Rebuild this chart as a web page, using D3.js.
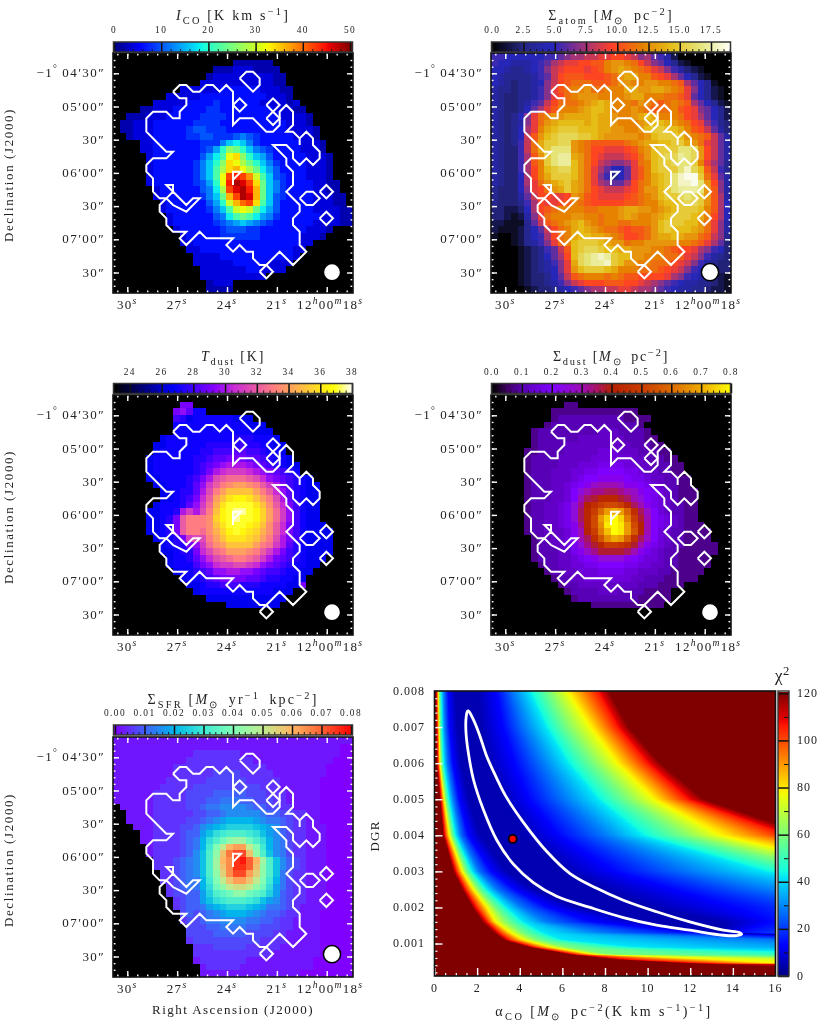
<!DOCTYPE html>
<html>
<head>
<meta charset="utf-8">
<script src="https://cdn.jsdelivr.net/npm/d3@7"></script>
<style>
  body { margin: 0; background: #fff; }
  #chi { position: absolute; }
  #fig { position: absolute; left: 0; top: 0; }
  text { font-family: "Liberation Serif", serif; fill: #222; }
</style>
</head>
<body>
<canvas id="chi"></canvas>
<svg id="fig" width="830" height="1030"></svg>
<script>
// maps: one string per row, one character per pixel (base 36 level, "." = no data)
const icoRows = [
  "...................................." ,
  "..................222222............",
  "...............2223332222...........",
  "..............233333333322..........",
  ".............3333333333322..........",
  "..........3 3333344444433322 .........",
  "........333 3344444444443332 .........",
  "......33333 4444544444433332 3........",
  "....2233344 4445544444444333 22.......",
  "..222333444 4455554444444433 332......",
  ".2233344444 4555544444444443 332......",
  ".2233344444 5665554444444443 3332.....",
  "..233344444 5566555676544444 3332.....",
  "....3344444 4455579a97544444 43332....",
  "....3344444 44568bedb9765444 43332....",
  ".....344444 4468achieb986444 443332...",
  ".....344444 4579beihfdb97544 443332...",
  ".....344444 4579cfijhfda8644 443332...",
  ".....344444 4579chmnmkgc9654 443332...",
  ".....344444 4568bhnpomid9754 4443322..",
  "......34444 4467afmopnjd9754 4443322..",
  "......34444 44579djmpojd9654 44433322.",
  ".......3444 44468bgjlmic9644 44433322.",
  ".......3444 444579cghgda8644 444333322",
  "........344 444467acdca87544 444433322",
  "........344 4444567898765444 444333322",
  ".........34 4444456665544444 443332...",
  "..........3 4444455555544444 43332....",
  "..........3 3444444444444444 433......",
  "........... 3344444444444444 33.......",
  "........... .333344444444444 3........",
  "........... .333333444443333 .........",
  "........... ..3333333443333. .........",
  "........... ..3333333333.... .........",
  "........... ...2333......... .........",
  "........... ...2222......... ........."
];
const atomRows = [
  "776666 667789 aabbcc ddcb9a 875200 000000",
  "766555 678abc cddeeg hhgfdb 986421 000000",
  "665445 679bcd ddcdeg hihgfe cb9753 210000",
  "654444 578bde eeddde fhiigg edca86 421000",
  "654344 569bde fffeee fhhggh hggfea 864100",
  "544344 579cef gghffg ggiihh iihgfc 964210",
  "543344 579cdf ghhhgg gghiig ggffec 864210",
  "543345 78bdff fghiji gggfhg fefgfe a86421",
  "543346 8acegg ghijji ggghgf effged c98642",
  "543469 cfghhi iiijii hgghij igggfd ca8642",
  "543459 cfhijj jjijii hggghi jjihgf dc9743",
  "54346a cgijkk kjjjii hhgghj kkjjig edb853",
  "54346b ehjkll lkkjih hhhhgh jkkkjh gfeb85",
  "54347b fikkll hgfeee eefghi ijjkki hfcb85",
  "54337b fikmmm hgfddc ccdegh jkkkmm lhdb85",
  "54337a ehkmnn ihfdcb bbcdfh jkllnm lhdb85",
  "54337a egkmnn jhfdba 99acfg jkklmm kgca84",
  "54337a dgjkll jhfca8 668ceg jkkkmo ljeb74",
  "54336a dgikkk jhfc97 468ceg ijkmop pkfc85",
  "54336a cfhijk ihfca9 88adfg ijkmoo pmhd95",
  "433369 cdfhik ihfdcb bbcdfh hjkmnn nmhe95",
  "433358 bddccd hgedcc ccdefg hjkklm lkhea5",
  "433347 adccde gfeddd ddeefg gijjkl lkhea6",
  "332236 adefgg ggffgg ghiihh ghijkk kjgea6",
  "332125 9cfggg hhggfg ghihgg hijkkk jigda6",
  "221114 8befgh ijhgfg gffggg hjkkkj jhfc95",
  "211124 68bdfg ijihgf fedeef hjkjjj ihfc95",
  "100124 67adfg ijjiih gfddef hiijih hfeb94",
  "000124 579cfg jkkkji hhfggh hhhhgg feca83",
  "000012 3478be jkllkj jiihhh ggfedd ca9763",
  "000012 3468ad jlmnon kjjhhg ggffec b97543",
  "000012 34579c ilmnno kjhhgg fffdcb 975433",
  "000012 34569c hjkkkj igggff fedcb9 765433",
  "000012 33468b efgggf gfeedd ddca97 654321",
  "000012 334579 bcddde eeddcb a98765 544321",
  "000001 233456 789aab bccbaa 987655 443221"
];
const tdustRows = [
  "...... ...... ...... ...... ...... ......",
  "...... ....cc ...... ...... ...... ......",
  "...... ...cdb 88.... ...... ...... ......",
  "...... ...a97 888888 777... ...... ......",
  "...... ...888 888888 88777. ...... ......",
  "...... ...888 888888 888777 ...... ......",
  "...... .78888 888888 999888 7..... ......",
  "...... 778888 889999 9a9988 77.... ......",
  "...... 788888 899aaa bbaa98 87.... ......",
  ".....7 888888 99abbc ccbba9 887... ......",
  ".....7 888888 9abcde eedcba 9877.. ......",
  ".....7 888888 9acefg ggfedc ba98.. ......",
  ".....7 788889 acehij jjihfd cba987 ......",
  "...... 778889 bdgikl mmlkig eca987 7.....",
  "...... .77899 behkmo ooomki fdb987 7.....",
  "...... .7789a cfimoq rrqomk heb987 7.....",
  "...... 78889b dgjnqs sssqol ifca87 7.....",
  ".....7 7889eg ehkors ttsrpm jgda87 7.....",
  ".....7 789cik kklprs tssrpm jgda87 7.....",
  ".....7 789cik kkloqs ssrqol ifca87 77....",
  ".....7 789cik kjlnpr srqpnl ifca87 777...",
  "...... 7889cg hhkmoq qqpomk heca87 777...",
  "...... .7899c dgjlmo ooomkj geb987 777...",
  "...... .77899 cfhjkm mmlkig eca987 777...",
  "...... ..7889 bdfhij kkjige cba987 77....",
  "...... ..7888 acdfgg hhgfdc ba9887 7.....",
  "...... ...788 9abdde eddcba a98877 ......",
  "...... ....78 89abcc ccbba9 98877. ......",
  "...... .....7 7899aa a99988 8877c. ......",
  "...... ...... 788888 888888 777... ......",
  "...... ...... ..7777 777777 77.... ......",
  "...... ...... .....7 777777 7..... ......",
  "...... ...... ...... ...... ...... ......",
  "...... ...... ...... ...... ...... ......",
  "...... ...... ...... ...... ...... ......",
  "...... ...... ...... ...... ...... ......"
];
const sdustRows = [
  "...... ...... ...... ...... ...... ......",
  "...... .....2 2..... ...... ...... ......",
  "...... ...222 222222 2222.. ...... ......",
  "...... ...233 333333 332222 ...... ......",
  "...... ..2333 333333 33332. ...... ......",
  "...... 233333 333344 433332 ...... ......",
  "...... 233333 344444 443332 2..... ......",
  "...... 233334 444444 444333 22.... ......",
  ".....2 233334 444455 544433 322... ......",
  ".....2 333344 444555 555443 3322.. ......",
  ".....2 333344 455566 665544 33322. ......",
  ".....2 333444 556677 776654 43322. ......",
  ".....2 333444 567788 887665 443322 ......",
  ".....2 333445 678abb ba8876 543322 ......",
  ".....2 333445 79bccd dcba87 654322 2.....",
  ".....2 333445 7bdegg gedb97 654322 2.....",
  ".....2 334456 9cfhjk kjgdb8 654332 2.....",
  ".....2 334456 9dgjnq rqmhda 754332 2.....",
  ".....2 334456 9dgkqt vtojeb 765432 2.....",
  ".....2 334456 8cgkpu vuqkfb 765432 22....",
  ".....2 334445 8bfjos vuqlfb 754332 222...",
  "...... 233445 7bdhlp rqmhda 754332 222...",
  "...... 233445 69cegj jiheb8 654332 2222..",
  "...... 233344 68acee eedb86 543322 2222..",
  "...... 233344 567899 998765 543322 222...",
  "...... .23344 556677 776655 443322 222...",
  "...... ..2334 455566 665544 433222 22....",
  "...... ...233 445555 555443 332222 2.....",
  "...... ....23 344444 444433 32222. ......",
  "...... .....2 333344 433332 222... ......",
  "...... ...... 233333 333322 222... ......",
  "...... ...... ...222 222222 22.... ......",
  "...... ...... ...... ...... ...... ......",
  "...... ...... ...... ...... ...... ......",
  "...... ...... ...... ...... ...... ......",
  "...... ...... ...... ...... ...... ......"
];
const sfrRows = [
  "111111 111111 111111 111111 111111 111111",
  "111111 111111 111111 111111 111111 111100",
  "111111 111111 222222 211111 111111 111100",
  "111111 111112 222222 222111 111111 111000",
  "111111 111222 222222 222221 111111 110000",
  "111111 111222 222333 322222 111111 110000",
  "111111 112222 223333 332222 211111 100000",
  "111111 122222 333333 333322 211111 100000",
  "111111 222223 333444 443332 221111 100000",
  "111111 222223 334455 544333 221111 100000",
  ".11111 222223 345566 665443 322111 100000",
  "..1111 222222 334456 666654 433221 100000",
  "..1111 222223 345678 888765 543221 100000",
  "...111 222233 46789a aaa987 643221 110000",
  "....11 222234 479bcd ddcb97 643221 110000",
  "....11 222234 58bdfh iifdb8 653221 110000",
  ".....1 222234 58cgko ppkgc8 653221 110000",
  ".....1 222234 69dhnr ttnhd9 653221 110000",
  "...... 222345 69dioq uvsoid 964321 110000",
  "...... 222345 69dinq uusnhd 964321 110000",
  "...... .22345 69dhmq ttpmhd 953221 110000",
  "...... .22345 58cgkn ppnkgc 853221 110000",
  "...... ..2345 58bfhk llkhfb 753221 110000",
  "...... ..2334 47adef hhfeda 743221 110000",
  "...... ...234 479bcd ddcb97 643221 110000",
  "...... ...234 45789a aa9875 543211 110000",
  "...... ....34 345678 887654 432211 100000",
  "...... ....23 345566 665544 322111 100000",
  "...... .....3 334455 554433 322111 100000",
  "...... .....3 333444 443333 221111 100000",
  "...... .....2 333333 333322 221111 100000",
  "...... ...... 222333 332222 211111 100000",
  "...... ...... 222222 222222 111111 100000",
  "...... ...... 122222 221111 111111 000000",
  "...... ...... .12222 211111 111111 000000",
  "...... ...... .11111 111111 111100 000000"
];

// CO contour, in map pixels (col, row), the same on all five maps
const contourMain = [[9,6],[10,5],[11,5],[12,6],[13,6],[14,5],[15,5],[16,6],[17,5],[18,6],[18,11],[19,10],[21,10],[23,12],[24,12],[25,11],[25,9],[26,8],[27,9],[27,11],[26,12],[27,12],[28,13],[28,14],[28,13],[29,12],[30,13],[30,14],[31,15],[31,16],[30,17],[29,16],[28,17],[27,16],[27,15],[26,14],[24,14],[26,16],[26,17],[27,18],[27,20],[26,21],[28,23],[28,24],[27,25],[27,26],[28,27],[28,29],[29,30],[27,32],[25,30],[23,32],[22,32],[21,31],[21,30],[20,30],[19,29],[18,30],[17,29],[18,28],[14,28],[13,27],[11,29],[10,28],[11,27],[9,27],[8,26],[8,25],[7,24],[7,23],[8,22],[9,21],[9,20],[8,20],[11,23],[12,22],[13,22],[11,24],[9,23],[8,22],[7,22],[6,21],[6,19],[5,18],[5,17],[6,16],[8,16],[9,15],[8,15],[5,12],[5,10],[6,9],[8,9],[9,10],[10,10],[10,9],[11,8],[11,7],[10,7],[9,6]];
const contourIslands = [
  [[19,4],[20,3],[21,3],[22,4],[22,5],[21,6],[19,4]],
  [[18,8],[19,7],[20,8],[19,9],[18,8]],
  [[23,8],[24,7],[25,8],[24,9],[23,8]],
  [[23,10],[24,9],[25,10],[24,11],[23,10]],
  [[18,20],[18,18],[19.2,18],[18,19.2]],
  [[28,22],[29,21],[30,21],[31,22],[30,23],[29,23],[28,22]],
  [[31,21],[32,20],[33,21],[32,22],[31,21]],
  [[31,25],[32,24],[33,25],[32,26],[31,25]],
  [[22,33],[23,32],[24,33],[23,34],[22,33]]
];

// chi2 surface: alpha_CO where each chi2 level is crossed, per DGR row
const chiLevels = [120,106,78,60,42,28,14,5,5,14,28,42,60,78,106,120];
const chiDgr = [0.008,0.007,0.006,0.005,0.004,0.003,0.0025,0.002,0.0016,0.0013,0.0011,0.0009,0.0007,0.00055,0.00045,0.00035,0.0002,0.0001];
const chiCross = [
  [0.03,0.08,0.16,0.20,0.30,0.42,0.61,0.97,1.98,2.92,3.63,4.41,5.34,6.20,7.61,8.16],
  [0.05,0.11,0.19,0.23,0.34,0.47,0.67,1.05,2.14,3.23,4.17,5.19,6.20,7.30,8.55,9.09],
  [0.08,0.14,0.23,0.30,0.42,0.58,0.83,1.23,2.45,3.78,5.03,6.20,7.45,8.55,9.95,10.58],
  [0.23,0.30,0.42,0.52,0.67,0.86,1.13,1.59,3.16,4.48,6.05,7.61,9.02,10.27,11.83,12.61],
  [0.39,0.47,0.67,0.80,0.98,1.20,1.55,2.14,4.17,5.89,7.92,9.64,11.67,13.39,16.5,17.6],
  [0.86,1.00,1.28,1.47,1.75,2.06,2.61,3.39,6.05,8.55,11.83,15.4,18.2,20.6,26,28.4],
  [1.28,1.44,1.80,2.06,2.45,2.92,3.70,4.64,7.92,11.36,15.4,19.8,24.5,27.6,33.9,37],
  [1.75,1.95,2.45,2.80,3.39,4.09,5.27,6.67,10.11,14.33,19.8,26,32.3,37,44.8,49.5],
  [2.22,2.45,2.84,3.39,4.17,5.27,7.30,10.42,13.55,15.89,21.4,29.2,37,44.8,52.6,57.3],
  [2.77,3.00,3.55,4.09,5.11,8.00,12.0,13.2,13.55,14.2,18.0,32.3,40,48,56,60],
  [3.23,3.47,4.17,4.80,6.05,15.89,21.4,22.9,24,25,26,33,41,49,57,61],
  [4.41,4.64,5.42,6.20,9.50,22,33.9,35.4,36,37,38,39,42,50,58,62],
  [6.28,6.59,7.45,8.20,22,37,41.7,43.2,44,45,46,47,48,51,59,63],
  [8.55,9.33,13.55,26,37,42,44,45,46,47,48,49,50,52,60,64],
  [11.67,12.77,16.2,37,38,43,45,46,47,48,49,50,51,53,61,65],
  [16.2,26,45,46,47,48,49,50,51,52,53,54,55,56,62,66],
  [100,101,102,103,104,105,106,107,108,109,110,111,112,113,114,115],
  [100,101,102,103,104,105,106,107,108,109,110,111,112,113,114,115]
];
const fitAlpha = [1.59,1.83,2.11,2.45,2.92,3.31,4.17,5.27,6.36,7.61,8.86,10.42,11.98,13.55,14.33,14.41,14.17,13.55,11.98,10.42,8.86,7.30,5.73,4.64,3.70,2.92,2.30,1.83,1.59,1.48,1.48,1.55];
const fitDgr = [0.00745,0.00720,0.00679,0.00619,0.00558,0.00512,0.00436,0.00355,0.00294,0.00253,0.00220,0.00188,0.00160,0.00137,0.00130,0.00126,0.00122,0.00123,0.00137,0.00151,0.00172,0.00200,0.00231,0.00269,0.00320,0.00387,0.00470,0.00554,0.00628,0.00683,0.00725,0.00744];
const bestFit = [3.67, 0.0039];

// axis labels
const raMajor = [30,27,24,21,18];
const decMajor = [270,300,330,360,390,420,450];
const decLabels = [
  [{t:"−1"},{t:"°",sup:1},{t:"\u200904′30″"}],
  [{t:"05′00″"}],[{t:"30″"}],[{t:"06′00″"}],[{t:"30″"}],[{t:"07′00″"}],[{t:"30″"}]
];
const raLabels = [
  [{t:"30"},{t:"s",sup:1,i:1}],
  [{t:"27"},{t:"s",sup:1,i:1}],
  [{t:"24"},{t:"s",sup:1,i:1}],
  [{t:"21"},{t:"s",sup:1,i:1}],
  [{t:"12"},{t:"h",sup:1,i:1},{t:"00"},{t:"m",sup:1,i:1},{t:"18"},{t:"s",sup:1,i:1}]
];
const msun = [{t:"M",i:1},{t:"⊙",sub:1}];

const jet = ["#000080","#0000ff","#00e6f7","#14ffde","#eeff08","#fff000","#ff1300","#e80000","#800000"];
const jetStops = [0,.11,.35,.375,.64,.66,.89,.91,1];
const ramps = {
  jet: d3.scaleLinear(jetStops, jet),
  cmr: d3.scaleLinear(d3.range(9).map(d => d/8), ["#000000","#262680","#2626bf","#993380","#ff4026","#e68000","#e6bf1a","#e6e680","#ffffff"]),
  gnu2: d3.scaleLinear([0,.25,.42,.5,.667,.8,.92,1], ["#000000","#0000ff","#8800ff","#c729d6","#ff7d82","#ffc23d","#ffff00","#ffffff"]),
  gnu: d3.scaleLinear([0,.0625,.125,.25,.375,.4375,.5,.625,.75,.875,1], ["#000000","#400062","#5900b5","#8004ff","#9c0db5","#a91461","#b52000","#ca3d00","#dd6b00","#efab00","#ffff00"]),
  rainbow: d3.scaleLinear(d3.range(9).map(d => d/8), ["#8000ff","#4062fa","#00b5eb","#40ead4","#80ffb5","#c0eb8e","#ffb562","#ff6232","#ff0000"])
};

const panels = [
  {rows: icoRows, step: 2, base: -2, ramp: ramps.jet, vmin: 0, vmax: 50, left: 113, top: 53, cbTop: 42, tickPx: [114,350], major: d3.range(0,51,10), fmt: "d",
   title: [{t:"I",i:1},{t:"CO",sub:1},{t:" [K km s"},{t:"−1",sup:1},{t:"]"}], titleY: 20, cbLabelY: 33, off: -1.3, titleGap: 2.2},
  {rows: atomRows, step: .75, ramp: ramps.cmr, vmin: 0, vmax: 19.1, left: 491, top: 53, cbTop: 42, tickPx: [492.3,731], major: d3.range(0,17.6,2.5), fmt: ".1f",
   title: [{t:"Σ"},{t:"atom",sub:1},{t:" ["},...msun,{t:"\u2002pc"},{t:"−2",sup:1},{t:"]"}], titleY: 20, cbLabelY: 33, off: -1.3, titleGap: 2.2},
  {rows: tdustRows, step: .5, base: 23, ramp: ramps.gnu2, vmin: 23, vmax: 38, left: 113, top: 395, cbTop: 383.5, tickPx: [114,352], major: d3.range(24,39,2), fmt: "d",
   title: [{t:"T",i:1},{t:"dust",sub:1},{t:" [K]"}], titleY: 361, cbLabelY: 375, off: -3.3, titleGap: 1.8},
  {rows: sdustRows, step: .025, base: .025, ramp: ramps.gnu, vmin: 0, vmax: .8, left: 491, top: 395, cbTop: 383.5, tickPx: [492,731], major: d3.range(0,.81,.1), fmt: ".1f",
   title: [{t:"Σ"},{t:"dust",sub:1},{t:" ["},...msun,{t:"\u2002pc"},{t:"−2",sup:1},{t:"]"}], titleY: 361, cbLabelY: 375, off: -3.3, titleGap: 1.8},
  {rows: sfrRows, step: .0025, ramp: ramps.rainbow, vmin: 0, vmax: .08, left: 113, top: 737, cbTop: 725, tickPx: [115,351], major: d3.range(0,.081,.01), fmt: ".2f",
   title: [{t:"Σ"},{t:"SFR",sub:1},{t:" ["},...msun,{t:"\u2002yr"},{t:"−1",sup:1},{t:"\u2002kpc"},{t:"−2",sup:1},{t:"]"}], titleY: 704, cbLabelY: 716, off: -3.3, titleGap: 2.2}
];

const svg = d3.select("#fig");
const SIZE = 240;

// the maps in the figure are resampled, so soften the pixel edges a little
svg.append("defs").append("filter").attr("id", "soft")
  .attr("x", "0").attr("y", "0").attr("width", "1").attr("height", "1")
  .append("feGaussianBlur").attr("stdDeviation", .6);

// text with sub/superscript and italic pieces as tspans
function rich(sel, segs, size) {
  let cur = 0;
  segs.forEach(s => {
    const target = s.sub ? size*.28 : s.sup ? -size*.38 : 0;
    sel.append("tspan")
      .attr("dy", target - cur)
      .style("font-size", (s.sub || s.sup ? size*.74 : size) + "px")
      .style("font-style", s.i ? "italic" : "normal")
      .text(s.t);
    cur = target;
  });
  return sel;
}

function label(x, y, segs, size, anchor, spacing) {
  const t = svg.append("text")
    .attr("x", x).attr("y", y)
    .attr("text-anchor", anchor || "middle")
    .style("letter-spacing", (spacing === undefined ? 1 : spacing) + "px");
  return rich(t, segs, size);
}

function parseRows(rows, step, base) {
  const cells = [];
  rows.forEach((row, r) => {
    row.replace(/ /g, "").split("").forEach((ch, c) => {
      if (ch !== "." && c < 36) cells.push({c: c, r: r, v: (base || 0) + parseInt(ch, 36)*step});
    });
  });
  return cells;
}

function whiteTicks(sel) {
  sel.select(".domain").remove();
  sel.selectAll("line").attr("stroke", "#fff").attr("stroke-width", 1.4);
  sel.selectAll("text").remove();
}

function drawMap(p) {
  const g = svg.append("g").attr("transform", `translate(${p.left},${p.top})`);
  const colX = d3.scaleBand(d3.range(36), [0, SIZE]);
  const rowY = d3.scaleBand(d3.range(36), [0, SIZE]);
  const color = d3.scaleLinear([p.vmin, p.vmax], [0, 1]).clamp(true);

  g.append("rect").attr("width", SIZE).attr("height", SIZE).attr("fill", "#000");
  const cellG = g.append("g").attr("filter", "url(#soft)");
  cellG.append("rect").attr("width", SIZE).attr("height", SIZE).attr("fill", "#000");
  cellG.selectAll("rect.cell").data(parseRows(p.rows, p.step, p.base)).join("rect")
    .attr("class", "cell")
    .attr("x", d => colX(d.c)).attr("y", d => rowY(d.r))
    .attr("width", colX.bandwidth()).attr("height", rowY.bandwidth())
    .attr("shape-rendering", "crispEdges")
    .attr("fill", d => p.ramp(color(d.v)));

  // contour
  const cx = d3.scaleLinear([0, 36], [0, SIZE]);
  const cy = d3.scaleLinear([0, 36], [p.off, SIZE + p.off]);
  const line = d3.line().x(d => cx(d[0])).y(d => cy(d[1]));
  [contourMain, ...contourIslands].forEach(path => {
    g.append("path").attr("d", line(path)).attr("fill", "none")
      .attr("stroke", "#fff").attr("stroke-width", 2).attr("stroke-linejoin", "miter");
  });

  // beam
  g.append("circle").attr("cx", 219).attr("cy", p.off + 220.5).attr("r", 8.6)
    .attr("fill", "#fff").attr("stroke", "#000").attr("stroke-width", 1.5);

  // axes, ticks inside on all sides
  const ra = d3.scaleLinear([30.86, 16.42], [0, SIZE]);
  const dec = d3.scaleLinear([270, 450], [20.3, 219.5]);
  const raMinor = d3.range(16.8, 31, .6);
  const decMinor = d3.range(240, 480, 6).filter(d => dec(d) > 2 && dec(d) < SIZE - 2);
  [[d3.axisBottom, SIZE, -1], [d3.axisTop, 0, 1]].forEach(([axis, y, s]) => {
    g.append("g").attr("transform", `translate(0,${y})`)
      .call(axis(ra).tickValues(raMajor).tickSize(5)).call(whiteTicks).selectAll("line").attr("y2", 6*s);
    g.append("g").attr("transform", `translate(0,${y})`)
      .call(axis(ra).tickValues(raMinor).tickSize(2)).call(whiteTicks).selectAll("line").attr("y2", 2.5*s);
  });
  [[d3.axisLeft, 0, 1], [d3.axisRight, SIZE, -1]].forEach(([axis, x, s]) => {
    g.append("g").attr("transform", `translate(${x},0)`)
      .call(axis(dec).tickValues(decMajor).tickSize(5)).call(whiteTicks).selectAll("line").attr("x2", 6*s);
    g.append("g").attr("transform", `translate(${x},0)`)
      .call(axis(dec).tickValues(decMinor).tickSize(2)).call(whiteTicks).selectAll("line").attr("x2", 2.5*s);
  });
  g.append("rect").attr("width", SIZE).attr("height", SIZE)
    .attr("fill", "none").attr("stroke", "#111").attr("stroke-width", 1.6);

  // tick labels
  raMajor.forEach((d, i) => label(p.left + ra(d) + (i === 4 ? 3.5 : 0), p.top + SIZE + 16, raLabels[i], 13, "middle", 1.3));
  decMajor.forEach((d, i) => label(p.left - 8, p.top + dec(d) + 4, decLabels[i], 13, "end", 1.4));

  drawColorbar(p);
}

function drawColorbar(p) {
  const h = 10;
  const g = svg.append("g").attr("transform", `translate(${p.left},${p.cbTop})`);
  const x = d3.scaleLinear([p.vmin, p.vmax], [p.tickPx[0] - p.left, p.tickPx[1] - p.left]);
  const t = d3.scaleLinear([p.vmin, p.vmax], [0, 1]).clamp(true);
  g.selectAll("rect.slice").data(d3.range(1, SIZE - 1)).join("rect")
    .attr("class", "slice")
    .attr("x", d => d).attr("y", 0).attr("width", 1.2).attr("height", h)
    .attr("fill", d => p.ramp(t(x.invert(d))));

  const step = p.major[1] - p.major[0];
  const [d0, d1] = [x.invert(1), x.invert(SIZE - 1)];
  const minors = d3.range(p.major[0] - step, d1, step/5).filter(d => d >= d0);
  g.append("g").attr("transform", `translate(0,${h})`)
    .call(d3.axisTop(x).tickValues(minors).tickSize(3).tickFormat(""))
    .call(a => a.select(".domain").remove())
    .selectAll("line").attr("stroke", "#111").attr("stroke-width", .9);
  g.append("g").attr("transform", `translate(0,${h})`)
    .call(d3.axisTop(x).tickValues(p.major).tickSize(h).tickFormat(""))
    .call(a => a.select(".domain").remove())
    .selectAll("line").attr("stroke", "#111").attr("stroke-width", 1.5);
  g.append("rect").attr("x", .5).attr("y", 0).attr("width", SIZE - 1).attr("height", h)
    .attr("fill", "none").attr("stroke", "#333").attr("stroke-width", 1.5);

  const fmt = d3.format(p.fmt);
  p.major.forEach(d => label(p.left + x(d), p.cbLabelY, [{t: fmt(d)}], 9.4, "middle", 1.4));
  label(p.left + 120, p.titleY, p.title, 14, "middle", p.titleGap);
}

panels.forEach(drawMap);

// left axis titles
[175, 517, 860].forEach(cy => {
  const t = svg.append("text").attr("transform", `translate(13,${cy}) rotate(-90)`)
    .attr("text-anchor", "middle").style("letter-spacing", "1.6px");
  rich(t, [{t: "Declination (J2000)"}], 13);
});
label(233, 1014, [{t: "Right Ascension (J2000)"}], 13, "middle", 1.45);

// chi2 panel
const chiBox = {x0: 434.5, x1: 775.5, y0: 691, y1: 976};
const xA = d3.scaleLinear([0, 16], [chiBox.x0, chiBox.x1]);
const yD = d3.scaleLinear([0.0001, 0.008], [chiBox.y1, chiBox.y0]);
const chiColor = d3.scaleLinear([0, 120], [0, 1]).clamp(true);

function drawChiRaster() {
  const w = Math.round(chiBox.x1 - chiBox.x0), h = Math.round(chiBox.y1 - chiBox.y0);
  const canvas = d3.select("#chi")
    .attr("width", w).attr("height", h)
    .style("left", chiBox.x0 + "px").style("top", chiBox.y0 + "px").node();
  const ctx = canvas.getContext("2d");
  const img = ctx.createImageData(w, h);
  const lut = d3.range(256).map(i => d3.rgb(ramps.jet(i/255)));
  // one scale per level curve: DGR -> alpha
  const curves = chiLevels.map((_, k) => d3.scaleLinear(chiDgr, chiCross.map(row => row[k])));
  for (let py = 0; py < h; py++) {
    const dgr = yD.invert(chiBox.y0 + py + .5);
    const rowScale = d3.scaleLinear(curves.map(c => c(dgr)), chiLevels).clamp(true);
    for (let px = 0; px < w; px++) {
      const chi = rowScale(xA.invert(chiBox.x0 + px + .5));
      const c = lut[Math.round(chiColor(chi)*255)];
      const o = (py*w + px)*4;
      img.data[o] = c.r; img.data[o+1] = c.g; img.data[o+2] = c.b; img.data[o+3] = 255;
    }
  }
  ctx.putImageData(img, 0, 0);
}
drawChiRaster();

const fitLine = d3.line().x(d => xA(d[0])).y(d => yD(d[1])).curve(d3.curveCatmullRomClosed);
svg.append("path").attr("d", fitLine(fitAlpha.map((a, i) => [a, fitDgr[i]])))
  .attr("fill", "none").attr("stroke", "#fff").attr("stroke-width", 2.8);
svg.append("circle").attr("cx", xA(bestFit[0])).attr("cy", yD(bestFit[1])).attr("r", 4)
  .attr("fill", "#f00").attr("stroke", "#000").attr("stroke-width", 1.8);

function chiTicks(sel, w) {
  sel.select(".domain").remove();
  sel.selectAll("line").attr("stroke", "#fff").attr("stroke-width", w);
}
svg.append("g").attr("transform", `translate(0,${chiBox.y1})`)
  .call(d3.axisTop(xA).tickValues(d3.range(0, 16.1, .5)).tickSize(3).tickFormat(""))
  .call(chiTicks, 1.2);
svg.append("g").attr("transform", `translate(0,${chiBox.y1})`)
  .call(d3.axisTop(xA).tickValues(d3.range(0, 17, 2)).tickSize(8).tickFormat(""))
  .call(chiTicks, 1.4);
svg.append("g").attr("transform", `translate(${chiBox.x0},0)`)
  .call(d3.axisRight(yD).tickValues(d3.range(.0002, .008, .0002)).tickSize(3).tickFormat(""))
  .call(chiTicks, 1.2);
svg.append("g").attr("transform", `translate(${chiBox.x0},0)`)
  .call(d3.axisRight(yD).tickValues(d3.range(1, 8).map(d => d/1000)).tickSize(8).tickFormat(""))
  .call(chiTicks, 1.4);
svg.append("rect").attr("x", chiBox.x0).attr("y", chiBox.y0)
  .attr("width", chiBox.x1 - chiBox.x0).attr("height", chiBox.y1 - chiBox.y0)
  .attr("fill", "none").attr("stroke", "#111").attr("stroke-width", 1.6);

d3.range(0, 17, 2).forEach(d => label(xA(d), 992, [{t: String(d)}], 12, "middle", .9));
d3.range(1, 9).forEach(d => label(425, yD(d/1000) + 3.5, [{t: d3.format(".3f")(d/1000)}], 12, "end", 1));
const dgrT = svg.append("text").attr("transform", "translate(379,836) rotate(-90)")
  .attr("text-anchor", "middle").style("letter-spacing", "1.2px");
rich(dgrT, [{t: "DGR"}], 13);
label(604, 1016, [{t:"α"},{t:"CO",sub:1},{t:" ["},...msun,{t:"\u2002pc"},{t:"−2",sup:1},{t:"(K km s"},{t:"−1",sup:1},{t:")"},{t:"−1",sup:1},{t:"]"}], 14, "middle", 2.4);

// chi2 colorbar
const cb = {x: 778, w: 11};
const yC = d3.scaleLinear([0, 120], [976, 693.3]);
svg.selectAll("rect.cbslice").data(d3.range(692, 976)).join("rect")
  .attr("class", "cbslice")
  .attr("x", cb.x).attr("y", d => d).attr("width", cb.w).attr("height", 1.2)
  .attr("fill", d => ramps.jet(chiColor(yC.invert(d))));
svg.append("g").attr("transform", `translate(${cb.x + cb.w},0)`)
  .call(d3.axisLeft(yC).tickValues(d3.range(10, 120, 20)).tickSize(5).tickFormat(""))
  .call(a => a.select(".domain").remove())
  .selectAll("line").attr("stroke", "#111").attr("stroke-width", 1);
svg.append("g").attr("transform", `translate(${cb.x + cb.w},0)`)
  .call(d3.axisLeft(yC).tickValues(d3.range(0, 121, 20)).tickSize(cb.w).tickFormat(""))
  .call(a => a.select(".domain").remove())
  .selectAll("line").attr("stroke", "#111").attr("stroke-width", 1.5);
svg.append("rect").attr("x", cb.x).attr("y", chiBox.y0).attr("width", cb.w).attr("height", chiBox.y1 - chiBox.y0)
  .attr("fill", "none").attr("stroke", "#333").attr("stroke-width", 1.4);
d3.range(0, 121, 20).forEach(d => label(797, yC(d) + 3.5, [{t: String(d)}], 12, "start", 1));
label(775, 681, [{t:"χ"},{t:"2",sup:1}], 17, "start", .5);
</script>
</body>
</html>
